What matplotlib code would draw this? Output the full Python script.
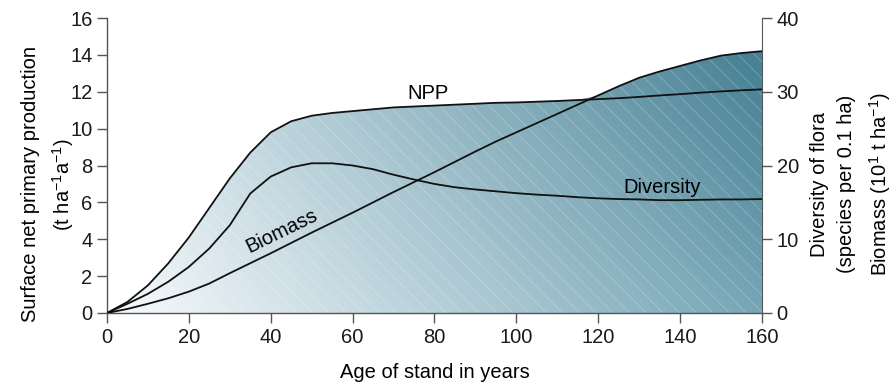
import numpy as np
import matplotlib
matplotlib.use("Agg")
import matplotlib.pyplot as plt
from matplotlib.patches import Polygon

plt.rcParams['font.family'] = ['Liberation Sans', 'DejaVu Sans']
plt.rcParams['mathtext.fontset'] = 'custom'
plt.rcParams['mathtext.rm'] = 'Liberation Sans'
plt.rcParams['mathtext.it'] = 'Liberation Sans'
plt.rcParams['mathtext.default'] = 'regular'
plt.rcParams['hatch.linewidth'] = 0.6

# age of stand (years)
age = [0, 5, 10, 15, 20, 25, 30, 35, 40, 45, 50, 55, 60, 65, 70, 75, 80,
       85, 90, 95, 100, 105, 110, 115, 120, 125, 130, 135, 140, 145, 150, 155, 160]
# surface net primary production (t ha-1 a-1), left axis
npp = [0, 0.6, 1.5, 2.7, 4.1, 5.7, 7.3, 8.7, 9.8, 10.4, 10.7, 10.85, 10.95, 11.05, 11.15, 11.2, 11.25,
       11.3, 11.35, 11.4, 11.42, 11.46, 11.5, 11.55, 11.6, 11.65, 11.72, 11.8, 11.87, 11.95, 12.02, 12.08, 12.13]
# diversity of flora (species per 0.1 ha), right axis
diversity = [0, 1.25, 2.6, 4.25, 6.25, 8.75, 11.9, 16.2, 18.5, 19.75, 20.3, 20.3, 20.0, 19.5, 18.75, 18.1, 17.5,
             17.05, 16.75, 16.5, 16.25, 16.05, 15.9, 15.7, 15.55, 15.45, 15.4, 15.3, 15.3, 15.35, 15.4, 15.4, 15.45]
# biomass (10^1 t ha-1), right axis
biomass = [0, 0.55, 1.25, 2.0, 2.9, 4.0, 5.4, 6.75, 8.1, 9.5, 10.9, 12.25, 13.6, 15.0, 16.4, 17.75, 19.1,
           20.5, 21.9, 23.25, 24.5, 25.75, 27.0, 28.25, 29.5, 30.75, 31.9, 32.75, 33.5, 34.25, 34.9, 35.25, 35.5]

left_ticks = [0, 2, 4, 6, 8, 10, 12, 14, 16]
right_ticks = [0, 10, 20, 30, 40]
x_ticks = [0, 20, 40, 60, 80, 100, 120, 140, 160]

fs = 14.5
spine_c = '#555555'
x = np.array(age)
scale = 16 / 40  # right axis units -> left axis units

fig = plt.figure(figsize=(8.96, 3.84), dpi=100)
ax = fig.add_axes([0.1194, 0.1849, 0.7310, 0.7682])
ax.set_xlim(0, 160)
ax.set_ylim(0, 16)

# shaded area below upper envelope (NPP, then biomass)
env = np.maximum(np.array(npp), np.array(biomass) * scale)
verts = list(zip(x, env)) + [(160, 0), (0, 0)]
poly = Polygon(verts, closed=True, facecolor='none', edgecolor='none', transform=ax.transData)
ax.add_patch(poly)

BL = np.array([249, 251, 253]) / 255
BR = np.array([118, 166, 182]) / 255
TL = np.array([212, 229, 236]) / 255
TR = np.array([62, 122, 142]) / 255
gx, gy = np.meshgrid(np.linspace(0, 1, 300), np.linspace(0, 1, 200))
gx = gx[..., None]
gy = gy[..., None]
img = (BL * (1 - gx) + BR * gx) * (1 - gy) + (TL * (1 - gx) + TR * gx) * gy
im = ax.imshow(img, extent=[0, 160, 0, 16], origin='lower', aspect='auto', zorder=1,
               interpolation='bilinear')
im.set_clip_path(poly)

ax.fill_between(x, 0, env, facecolor='none', edgecolor=(1, 1, 1, 0.25), hatch='\\\\',
                linewidth=0, zorder=2)

lc = '#111111'
ax.plot(x, npp, color=lc, lw=1.3, zorder=3)
ax.plot(x, np.array(diversity) * scale, color=lc, lw=1.3, zorder=3)
ax.plot(x, np.array(biomass) * scale, color=lc, lw=1.3, zorder=3)

ax.text(78.4, 11.93, 'NPP', fontsize=fs, ha='center', va='center', zorder=4)
ax.text(135.6, 6.83, 'Diversity', fontsize=fs, ha='center', va='center', zorder=4)
ax.text(42.7, 4.45, 'Biomass', fontsize=fs, ha='center', va='center', rotation=26,
        rotation_mode='anchor', zorder=4)

ax.set_xticks(x_ticks)
ax.set_yticks(left_ticks)
for s in ['top', 'right']:
    ax.spines[s].set_visible(False)
for s in ['left', 'bottom']:
    ax.spines[s].set_color(spine_c)
    ax.spines[s].set_linewidth(1.0)
ax.tick_params(direction='out', length=7.5, width=1.0, color=spine_c, labelsize=fs,
               labelcolor='#1a1a1a', pad=3)

ax2 = ax.twinx()
ax2.set_ylim(0, 40)
ax2.set_yticks(right_ticks)
for s in ['top', 'left', 'bottom']:
    ax2.spines[s].set_visible(False)
ax2.spines['right'].set_color(spine_c)
ax2.tick_params(direction='out', length=7.5, width=1.0, color=spine_c, labelsize=fs,
                labelcolor='#1a1a1a', pad=3)

ax.set_xlabel('Age of stand in years', fontsize=fs, labelpad=12)
fig.text(0.034, 0.52, 'Surface net primary production', rotation=90, fontsize=fs,
         ha='center', va='center')
fig.text(0.070, 0.52, '(t ha$^{-1}$a$^{-1}$)', rotation=90, fontsize=fs,
         ha='center', va='center')
fig.text(0.915, 0.52, 'Diversity of flora', rotation=90, fontsize=fs, ha='center', va='center')
fig.text(0.945, 0.52, '(species per 0.1 ha)', rotation=90, fontsize=fs, ha='center', va='center')
fig.text(0.982, 0.52, 'Biomass (10$^{1}$ t ha$^{-1}$)', rotation=90, fontsize=fs,
         ha='center', va='center')

fig.savefig('out.png', dpi=100)
